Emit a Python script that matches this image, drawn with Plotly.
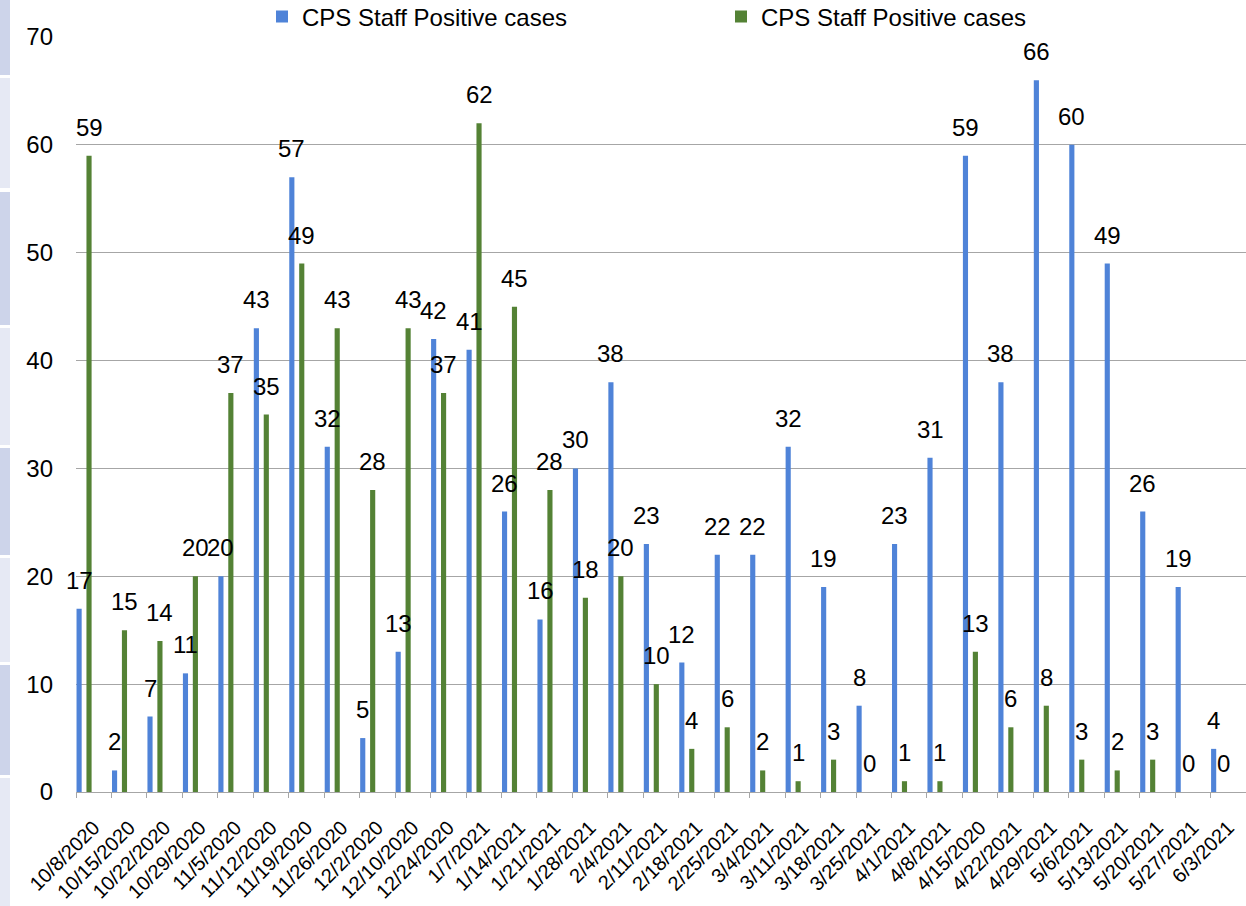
import plotly.graph_objects as go

dates = ["10/8/2020", "10/15/2020", "10/22/2020", "10/29/2020", "11/5/2020", "11/12/2020",
         "11/19/2020", "11/26/2020", "12/2/2020", "12/10/2020", "12/24/2020", "1/7/2021",
         "1/14/2021", "1/21/2021", "1/28/2021", "2/4/2021", "2/11/2021", "2/18/2021",
         "2/25/2021", "3/4/2021", "3/11/2021", "3/18/2021", "3/25/2021", "4/1/2021",
         "4/8/2021", "4/15/2020", "4/22/2021", "4/29/2021", "5/6/2021", "5/13/2021",
         "5/20/2021", "5/27/2021", "6/3/2021"]
blue_values = [17, 2, 7, 11, 20, 43, 57, 32, 5, 13, 42, 41, 26, 16, 30, 38, 23, 12, 22, 22,
               32, 19, 8, 23, 31, 59, 38, 66, 60, 49, 26, 19, 4]
green_values = [59, 15, 14, 20, 37, 35, 49, 43, 28, 43, 37, 62, 45, 28, 18, 20, 10, 4, 6, 2,
                1, 3, 0, 1, 1, 13, 6, 8, 3, 2, 3, 0, 0]
series_names = ["CPS Staff Positive cases", "CPS Staff Positive cases"]
y_ticks = [0, 10, 20, 30, 40, 50, 60, 70]

BLUE = "#4f83d8"
GREEN = "#548235"
FONT = "Liberation Sans, Arial, sans-serif"

BAR_W = 0.145
BLUE_OFF = -0.485
GREEN_OFF = -0.205

fig = go.Figure()
series = [(blue_values, BLUE, BLUE_OFF, series_names[0]),
          (green_values, GREEN, GREEN_OFF, series_names[1])]
annotations = []
for vals, col, off, name in series:
    fig.add_trace(go.Bar(
        x=dates, y=vals, name=name,
        marker=dict(color=col, line=dict(width=0)),
        width=BAR_W, offset=off,
    ))
    for i, v in enumerate(vals):
        annotations.append(dict(
            x=i + off + BAR_W / 2, y=v, xref="x", yref="y",
            text=str(v), showarrow=False, yanchor="bottom", xanchor="center",
            yshift=13, font=dict(family=FONT, size=24, color="#000000"),
        ))

# left decorative strip
bands = [(0, 75, "#cdd4ea"), (78, 188, "#e6e9f4"), (192, 325, "#cdd4ea"), (328, 445, "#e6e9f4"),
         (448, 555, "#cdd4ea"), (558, 662, "#e6e9f4"), (665, 775, "#cdd4ea"), (778, 906, "#e6e9f4")]
shapes = []
for y0, y1, c in bands:
    shapes.append(dict(type="rect", xref="paper", yref="paper",
                       x0=-76 / 1170, x1=-66 / 1170,
                       y0=(792 - y1) / 755, y1=(792 - y0) / 755,
                       fillcolor=c, line=dict(width=0), layer="below"))

fig.update_layout(
    width=1246, height=906,
    margin=dict(l=76, r=0, t=37, b=114, autoexpand=False),
    paper_bgcolor="white", plot_bgcolor="white",
    barmode="overlay",
    showlegend=True,
    legend=dict(orientation="h", x=(262 - 76) / 1170, xanchor="left",
                yref="container", y=1 - 17 / 906, yanchor="middle",
                font=dict(family=FONT, size=24, color="#000000"),
                entrywidth=414, itemwidth=30,
                bgcolor="rgba(0,0,0,0)"),
    shapes=shapes,
    annotations=annotations,
    xaxis=dict(
        type="category", tickson="boundaries", tickangle=-45,
        tickfont=dict(family=FONT, size=20, color="#000000"),
        showgrid=False, showline=True, linecolor="#a6a6a6", linewidth=1,
        ticks="outside", ticklen=5, tickcolor="#a6a6a6",
        ticklabelstandoff=15, automargin=False,
        range=[-0.5, len(dates) - 0.5],
    ),
    yaxis=dict(
        range=[0, 70], tickvals=y_ticks,
        tickfont=dict(family=FONT, size=24, color="#000000"),
        showgrid=True, gridcolor="#a6a6a6", gridwidth=1,
        zeroline=False, showline=False, automargin=False,
        ticks="", ticklabelstandoff=22,
    ),
)

fig.write_html("out.html", config={"displayModeBar": False},
               post_script="document.body.style.margin='0';")
